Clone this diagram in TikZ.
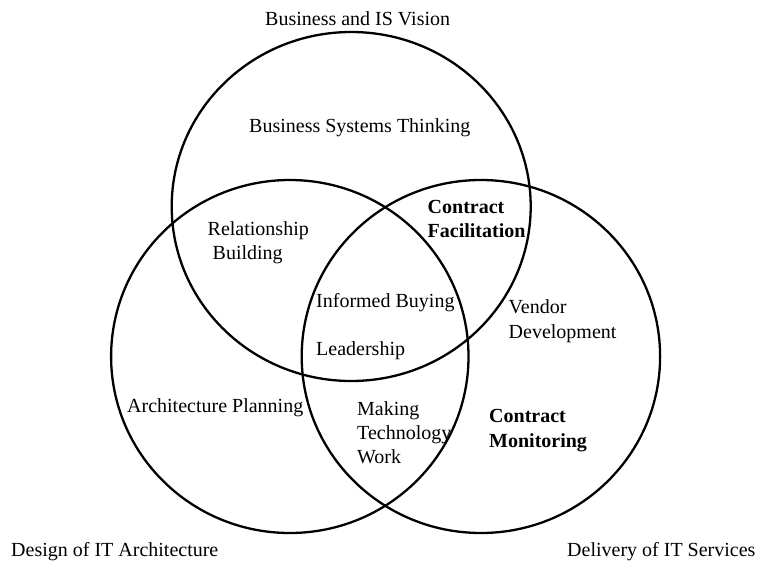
\documentclass[tikz,border=0pt]{standalone}
\usepackage{fontspec}
\setmainfont{Liberation Serif}
\begin{document}
\begin{tikzpicture}[x=1pt,y=-1pt,
  ring/.style={line width=2.3pt},
  lbl/.style={anchor=base west, inner sep=0pt, font=\fontsize{20}{24}\selectfont},
  blbl/.style={lbl, font=\fontsize{20}{24}\selectfont\bfseries}]
\useasboundingbox (0,0) rectangle (759,562);
% the three overlapping rings
\draw[ring] (351.2,206.5) ellipse [x radius=179.5, y radius=174.5];
\draw[ring] (289.8,356.5) ellipse [x radius=178.7, y radius=176.5];
\draw[ring] (480.9,356.5) ellipse [x radius=179.2, y radius=176.5];
% ring titles
\node[lbl] (vision) at (265,25) {Business and IS Vision};
\node[lbl] (design) at (11,556) {Design of IT Architecture};
\node[lbl] (delivery) at (567,556) {Delivery of IT Services};
% single-ring regions
\node[lbl] (bst) at (249,132) {Business Systems Thinking};
\node[lbl] (arch) at (127,412) {Architecture Planning};
\node[lbl] (vend1) at (508.5,313.5) {Vendor};
\node[lbl] (vend2) at (508.5,338) {Development};
\node[blbl] (mon1) at (489,422) {Contract};
\node[blbl] (mon2) at (489,447) {Monitoring};
% pairwise overlaps
\node[lbl] (rel1) at (207.5,235) {Relationship};
\node[lbl] (rel2) at (212.5,259.5) {Building};
\node[blbl] (fac1) at (427.5,213) {Contract};
\node[blbl] (fac2) at (427.5,237) {Facilitation};
\node[lbl] (make1) at (357,415) {Making};
\node[lbl] (make2) at (357,439) {Technology};
\node[lbl] (make3) at (357,463) {Work};
% centre
\node[lbl] (buy) at (316,307) {Informed Buying};
\node[lbl] (lead) at (316,355.5) {Leadership};
\end{tikzpicture}
\end{document}
